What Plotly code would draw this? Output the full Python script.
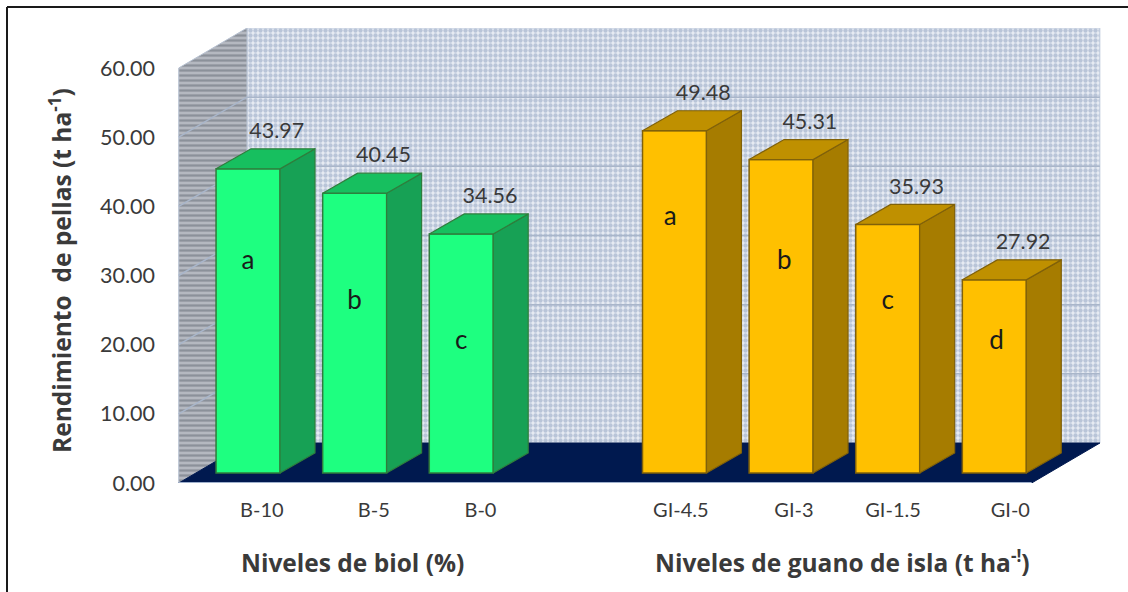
import plotly.graph_objects as go

# --- data ---
biol_labels = ["B-10", "B-5", "B-0"]
biol_values = [43.97, 40.45, 34.56]
biol_letters = ["a", "b", "c"]
biol_slots = [0, 1, 2]

guano_labels = ["GI-4.5", "GI-3", "GI-1.5", "GI-0"]
guano_values = [49.48, 45.31, 35.93, 27.92]
guano_letters = ["a", "b", "c", "d"]
guano_slots = [4, 5, 6, 7]

y_ticks = [0, 10, 20, 30, 40, 50, 60]

# --- layout constants ---
W, H = 1128, 592
PX_L, PX_R, PX_T, PX_B = 178, 1102, 28, 483
X_RANGE = [-0.657, 8.01]
FLOOR_DX, FLOOR_DY = 0.64, 5.78      # depth of the 3-D box (slots, value units)
BAR_BASE = 1.45                      # bar plinth offset on the floor
BAR_HALF = 0.30
BAR_DX, BAR_DY = 0.328, 2.89         # depth of each bar
WALL_L, WALL_R = -0.65, 7.35
Y_TOP = 60 + FLOOR_DY
FONT = "Lato, Carlito, Calibri, sans-serif"
TITLE_FONT = "'Open Sans', sans-serif"
TXT = "#3a3a3a"

LABEL_NUDGE = [0.13, 0.18, 0.18, 0.06, 0.12, 0.05, 0.15]
VALUE_DX = 0.27
VALUE_DY = 5.25
LETTER_Y_BIOL = [31.9, 26.1, 20.3]
LETTER_Y_GUANO = [38.2, 31.9, 26.1, 20.3]
LETTER_DX_BIOL = [0, 0, 0]
LETTER_DX_GUANO = [-0.04, 0.03, 0, 0.02]

fig = go.Figure()


def poly(xs, ys, **kw):
    return go.Scatter(x=xs + xs[:1], y=ys + ys[:1], mode="lines", fill="toself",
                      hoverinfo="skip", showlegend=False, **kw)


# back wall
fig.add_trace(poly([WALL_L + FLOOR_DX, WALL_R + FLOOR_DX, WALL_R + FLOOR_DX, WALL_L + FLOOR_DX],
                   [FLOOR_DY, FLOOR_DY, Y_TOP, Y_TOP],
                   line=dict(color="#c3cede", width=1), fillcolor="#ffffff",
                   fillpattern=dict(shape=".", fgcolor="#8a9ebd", bgcolor="#e8ecf3", size=5, solidity=0.6)))
# left wall
fig.add_trace(poly([WALL_L, WALL_L + FLOOR_DX, WALL_L + FLOOR_DX, WALL_L],
                   [0, FLOOR_DY, Y_TOP, 60],
                   line=dict(color="#b6c0d0", width=1), fillcolor="#a0a4ac",
                   fillpattern=dict(shape="-", fgcolor="#626973", bgcolor="#b4b8c0", size=5, solidity=0.45)))
# floor
fig.add_trace(poly([WALL_L, WALL_R, WALL_R + FLOOR_DX, WALL_L + FLOOR_DX],
                   [0, 0, FLOOR_DY, FLOOR_DY],
                   line=dict(color="#00194f", width=1), fillcolor="#00194f"))
# front floor edge
fig.add_trace(go.Scatter(x=[WALL_L, WALL_R], y=[0, 0], mode="lines", hoverinfo="skip", cliponaxis=False,
                         showlegend=False, line=dict(color="#9fb0cc", width=2)))
# gridlines
gx, gy = [], []
for t in y_ticks[1:-1]:
    gx += [WALL_L, WALL_L + FLOOR_DX, WALL_R + FLOOR_DX, None]
    gy += [t, t + FLOOR_DY, t + FLOOR_DY, None]
fig.add_trace(go.Scatter(x=gx, y=gy, mode="lines", hoverinfo="skip", showlegend=False,
                         line=dict(color="#a9b6ca", width=1.5)))


def add_group(slots, values, letters, letter_y, letter_dx, front, side, top, edge):
    fig.add_trace(go.Bar(x=slots, y=values, base=[BAR_BASE] * len(values), width=2 * BAR_HALF,
                         marker=dict(color=front, line=dict(color=edge, width=1.5)),
                         xaxis="x2", yaxis="y2", showlegend=False, hoverinfo="skip"))
    for s, v in zip(slots, values):
        yt = v + BAR_BASE
        xr = s + BAR_HALF
        xl = s - BAR_HALF
        fig.add_trace(poly([xr, xr + BAR_DX, xr + BAR_DX, xr],
                           [BAR_BASE, BAR_BASE + BAR_DY, yt + BAR_DY, yt],
                           line=dict(color=edge, width=1.2), fillcolor=side, xaxis="x2", yaxis="y2"))
        fig.add_trace(poly([xl, xr, xr + BAR_DX, xl + BAR_DX],
                           [yt, yt, yt + BAR_DY, yt + BAR_DY],
                           line=dict(color=edge, width=1.2), fillcolor=top, xaxis="x2", yaxis="y2"))
    fig.add_trace(go.Scatter(x=[s + VALUE_DX for s in slots], y=[v + BAR_BASE + VALUE_DY for v in values],
                             text=[f"{v:.2f}" for v in values], mode="text",
                             textposition="middle center",
                             textfont=dict(family=FONT, size=21.5, color=TXT),
                             xaxis="x2", yaxis="y2", showlegend=False, hoverinfo="skip"))
    fig.add_trace(go.Scatter(x=[s + d for s, d in zip(slots, letter_dx)], y=letter_y, text=letters, mode="text",
                             textposition="middle center",
                             textfont=dict(family=FONT, size=26, color="#1a1a1a"),
                             xaxis="x2", yaxis="y2", showlegend=False, hoverinfo="skip"))


add_group(biol_slots, biol_values, biol_letters, LETTER_Y_BIOL, LETTER_DX_BIOL,
          "#1eff80", "#17a155", "#17bf5f", "#2f7d3c")
add_group(guano_slots, guano_values, guano_letters, LETTER_Y_GUANO, LETTER_DX_GUANO,
          "#ffc000", "#a67c00", "#bf9000", "#80610a")

all_slots = biol_slots + guano_slots
all_labels = biol_labels + guano_labels
dom_x = [PX_L / W, PX_R / W]
dom_y = [(H - PX_B) / H, (H - PX_T) / H]

fig.update_layout(
    width=W, height=H, margin=dict(l=0, r=0, t=0, b=0, pad=0, autoexpand=False),
    paper_bgcolor="white", plot_bgcolor="rgba(0,0,0,0)", showlegend=False, barmode="overlay",
    xaxis=dict(domain=dom_x, range=X_RANGE, showgrid=False, zeroline=False, showline=False, automargin=False,
               tickmode="array", tickvals=[s + n for s, n in zip(all_slots, LABEL_NUDGE)],
               ticktext=all_labels, ticks="", tickfont=dict(family=FONT, size=20, color=TXT),
               ticklabelstandoff=13),
    yaxis=dict(domain=dom_y, range=[0, Y_TOP], showgrid=False, zeroline=False, showline=False, automargin=False,
               tickmode="array", tickvals=y_ticks, ticktext=[f"{t:.2f}" for t in y_ticks],
               ticks="", tickfont=dict(family=FONT, size=21.5, color=TXT), ticklabelstandoff=22),
    xaxis2=dict(domain=dom_x, range=X_RANGE, overlaying="x", visible=False, automargin=False),
    yaxis2=dict(domain=dom_y, range=[0, Y_TOP], overlaying="y", visible=False, automargin=False),
    shapes=[
        dict(type="line", xref="paper", yref="paper", x0=7 / W, x1=1, y0=1 - 7 / H, y1=1 - 7 / H,
             line=dict(color="#1a1a1a", width=2)),
        dict(type="line", xref="paper", yref="paper", x0=7 / W, x1=7 / W, y0=0, y1=1 - 7 / H,
             line=dict(color="#1a1a1a", width=2)),
    ],
    annotations=[
        dict(text="<b>Rendimiento  de pellas (t ha<sup>-1</sup>)</b>", xref="paper", yref="paper",
             x=60 / W, y=1 - 271 / H, textangle=-90, showarrow=False, xanchor="center", yanchor="middle",
             font=dict(family=TITLE_FONT, size=24.5, color=TXT)),
        dict(text="<b>Niveles de biol (%)</b>", xref="paper", yref="paper",
             x=352 / W, y=1 - 562 / H, showarrow=False, xanchor="center", yanchor="middle",
             font=dict(family=TITLE_FONT, size=24.5, color=TXT)),
        dict(text="<b>Niveles de guano de isla (t ha<sup>-!</sup>)</b>", xref="paper", yref="paper",
             x=842 / W, y=1 - 561 / H, showarrow=False, xanchor="center", yanchor="middle",
             font=dict(family=TITLE_FONT, size=24.5, color=TXT)),
    ],
)

fig.write_html("out.html", config={"displayModeBar": False},
               post_script="document.body.style.margin='0';document.body.style.overflow='hidden';")
